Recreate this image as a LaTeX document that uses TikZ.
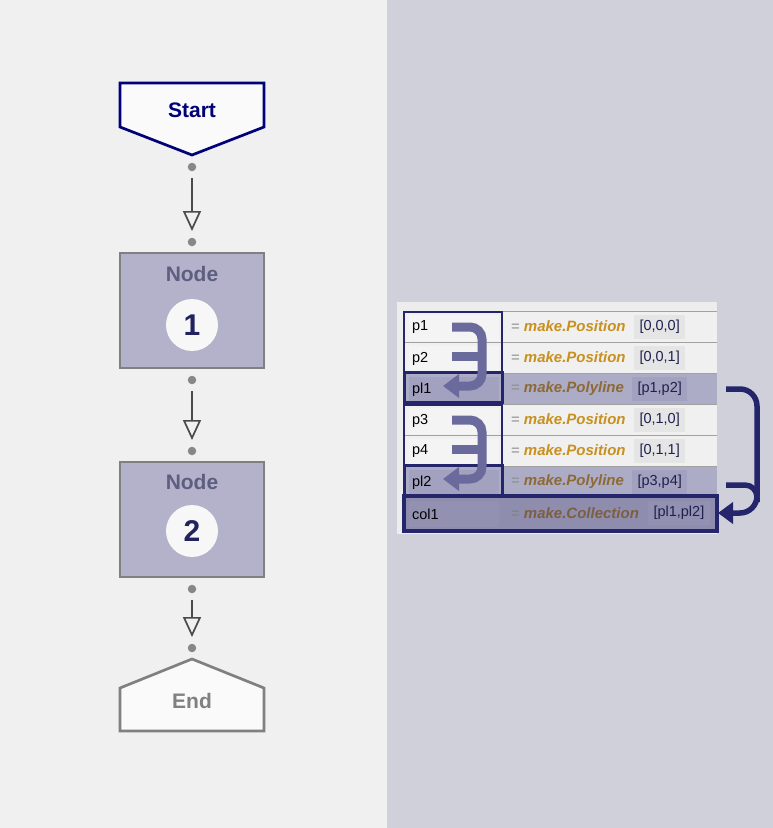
\documentclass[tikz,border=0pt]{standalone}
\usepackage{fontspec}
\setmainfont{Liberation Sans}
\usetikzlibrary{arrows.meta}
\definecolor{leftbg}{HTML}{F0F0F0}
\definecolor{rightbg}{HTML}{D0D0DA}
\definecolor{navyA}{HTML}{000078}
\definecolor{navyB}{HTML}{25256C}
\definecolor{nodefill}{HTML}{B4B2CA}
\definecolor{nodetext}{HTML}{5E5E80}
\definecolor{numtext}{HTML}{22225E}
\definecolor{grayline}{HTML}{808080}
\definecolor{dotgray}{HTML}{878787}
\definecolor{arrowgray}{HTML}{4A4A4A}
\definecolor{rowlight}{HTML}{F0F0F0}
\definecolor{rowlav}{HTML}{ADACC6}
\definecolor{rowcol}{HTML}{8E8DAE}
\definecolor{celllight}{HTML}{F4F4F4}
\definecolor{celllav}{HTML}{A2A1BF}
\definecolor{cellcol}{HTML}{9291B2}
\definecolor{gold}{HTML}{C8901E}
\definecolor{goldlav}{HTML}{8D6A35}
\definecolor{goldcol}{HTML}{7C5F40}
\definecolor{argtext}{HTML}{20204E}
\definecolor{flowpurple}{HTML}{6A6A9C}
\tikzset{
  x=1pt, y=-1pt,
  every node/.style={inner sep=0pt, outer sep=0pt},
  dot/.style={circle, fill=dotgray, minimum size=8.5pt},
  flow/.style={draw=arrowgray, line width=2.4pt, shorten <=11pt, shorten >=11pt,
    -{Triangle[open, length=20pt, width=18pt, line width=1.7pt]}},
  procbox/.style={draw=grayline, line width=2.8pt, fill=nodefill, minimum width=144pt, minimum height=115pt},
  numcirc/.style={circle, fill=white!97!black, minimum size=52pt, font=\fontsize{30}{34}\selectfont\bfseries, text=numtext},
  nodelabel/.style={font=\fontsize{21}{24}\selectfont\bfseries, text=nodetext},
  namecell/.style={anchor=west, minimum width=90pt, minimum height=26pt, text width=84pt, align=left, inner xsep=3pt, font=\fontsize{14.5}{16}\selectfont, text=black},
  eqtext/.style={anchor=west, font=\fontsize{15}{17}\selectfont},
  argbox/.style={anchor=west, inner xsep=5.5pt, minimum height=24pt, font=\fontsize{14.5}{16}\selectfont, text=argtext},
  rowline/.style={draw=black!37, line width=0.8pt},
  grpframe/.style={draw=navyB, line width=2.5pt},
  outframe/.style={draw=navyB, line width=3pt},
  depflow/.style={draw=flowpurple, line width=9pt, rounded corners=12pt},
  bigflow/.style={draw=navyB, line width=5.5pt, rounded corners=17pt}
}
\begin{document}
\begin{tikzpicture}
\useasboundingbox (0,0) rectangle (773,828);
\fill[leftbg] (0,0) rectangle (387,828);
\fill[rightbg] (387,0) rectangle (773,828);

% ---------- flowchart ----------
\filldraw[draw=navyA, fill=white!98!black, line width=2.7pt, line join=miter]
  (120,83) -- (264,83) -- (264,127) -- (192,155) -- (120,127) -- cycle;
\node[font=\fontsize{21}{24}\selectfont\bfseries, text=navyA] (start) at (192,110) {Start};

\node[dot] (d1) at (192,167) {};
\node[dot] (d2) at (192,242) {};
\draw[flow] (d1.center) -- (d2.center);

\node[procbox] (n1) at (192,310.5) {};
\node[nodelabel] (n1t) at (192,274) {Node};
\node[numcirc] (n1c) at (192,325) {1};

\node[dot] (d3) at (192,380) {};
\node[dot] (d4) at (192,451) {};
\draw[flow] (d3.center) -- (d4.center);

\node[procbox] (n2) at (192,519.5) {};
\node[nodelabel] (n2t) at (192,482) {Node};
\node[numcirc] (n2c) at (192,531) {2};

\node[dot] (d5) at (192,589) {};
\node[dot] (d6) at (192,648) {};
\draw[flow] (d5.center) -- (d6.center);

\filldraw[draw=grayline, fill=white!98!black, line width=2.7pt, line join=miter]
  (192,659) -- (264,688) -- (264,731) -- (120,731) -- (120,688) -- cycle;
\node[font=\fontsize{21}{24}\selectfont\bfseries, text=grayline] (end) at (192,701) {End};

% ---------- table ----------
\fill[black!7] (397,302) rectangle (717,534);
\fill[rowlight] (404,311) rectangle (717,373);
\fill[rowlav] (404,373) rectangle (717,404);
\fill[rowlight] (404,404) rectangle (717,466);
\fill[rowlav] (404,466) rectangle (717,497);
\fill[rowcol] (404,497) rectangle (717,530);
\foreach \yy in {311,342,373,404,435,466,497} {\draw[rowline] (404,\yy) -- (717,\yy);}

% name cells
\node[namecell, fill=celllight] (c1) at (409,327.5) {p1};
\node[namecell, fill=celllight] (c2) at (409,358.5) {p2};
\node[namecell, fill=celllav]   (c3) at (409,389.5) {pl1};
\node[namecell, fill=celllight] (c4) at (409,420.5) {p3};
\node[namecell, fill=celllight] (c5) at (409,451.5) {p4};
\node[namecell, fill=celllav]   (c6) at (409,482.5) {pl2};
\node[namecell, fill=cellcol]   (c7) at (409,514) {col1};

% expressions
\node[eqtext] (e1) at (511,326.5) {\textcolor{black!45}{=} \textcolor{gold}{\bfseries\itshape make.Position}};
\node[eqtext] (e2) at (511,357.5) {\textcolor{black!45}{=} \textcolor{gold}{\bfseries\itshape make.Position}};
\node[eqtext] (e3) at (511,388.5) {\textcolor{black!45}{=} \textcolor{goldlav}{\bfseries\itshape make.Polyline}};
\node[eqtext] (e4) at (511,419.5) {\textcolor{black!45}{=} \textcolor{gold}{\bfseries\itshape make.Position}};
\node[eqtext] (e5) at (511,450.5) {\textcolor{black!45}{=} \textcolor{gold}{\bfseries\itshape make.Position}};
\node[eqtext] (e6) at (511,481.5) {\textcolor{black!45}{=} \textcolor{goldlav}{\bfseries\itshape make.Polyline}};
\node[eqtext] (e7) at (511,513) {\textcolor{black!50}{=} \textcolor{goldcol}{\bfseries\itshape make.Collection}};

% argument boxes
\node[argbox, fill=black!10] (a1) at (634,326.5) {[0,0,0]};
\node[argbox, fill=black!10] (a2) at (634,357.5) {[0,0,1]};
\node[argbox, fill=celllav]  (a3) at (632,388.5) {[p1,p2]};
\node[argbox, fill=black!10] (a4) at (634,419.5) {[0,1,0]};
\node[argbox, fill=black!10] (a5) at (634,450.5) {[0,1,1]};
\node[argbox, fill=celllav]  (a6) at (632,481.5) {[p3,p4]};
\node[argbox, fill=cellcol]  (a7) at (648,513) {[pl1,pl2]};

% navy frames
\draw[grpframe] (404,312) rectangle (502,372);
\draw[outframe] (404,372) rectangle (502,402);
\draw[grpframe] (404,405) rectangle (502,465);
\draw[outframe] (404,465) rectangle (502,495);
\draw[outframe, line width=3.5pt] (404,496) rectangle (717,531);

% dependency arrows (left)
\coordinate (g1a) at (452,327);
\coordinate (g1b) at (452,356);
\coordinate (g1k) at (482,327);
\coordinate (g1m) at (482,386);
\coordinate (g1t) at (443,386);
\draw[depflow, -{Triangle[length=16pt, width=23pt]}] (g1a) -- (g1k) -- (g1m) -- (g1t);
\draw[depflow] (g1b) -- (g1k |- g1b);

\coordinate (g2a) at (452,420);
\coordinate (g2b) at (452,449);
\coordinate (g2k) at (482,420);
\coordinate (g2m) at (482,479);
\coordinate (g2t) at (443,479);
\draw[depflow, -{Triangle[length=16pt, width=23pt]}] (g2a) -- (g2k) -- (g2m) -- (g2t);
\draw[depflow] (g2b) -- (g2k |- g2b);

% big arrow (right)
\coordinate (b1) at (726,389);
\coordinate (b2) at (757,389);
\coordinate (b3) at (757,513);
\coordinate (b4) at (718,513);
\coordinate (b5) at (726,485);
\draw[bigflow, -{Triangle[length=15pt, width=21pt]}] (b1) -- (b2) -- (b3) -- (b4);
\draw[bigflow, rounded corners=12pt] (b5) -- (757,485) -- (757,502);
\end{tikzpicture}
\end{document}
